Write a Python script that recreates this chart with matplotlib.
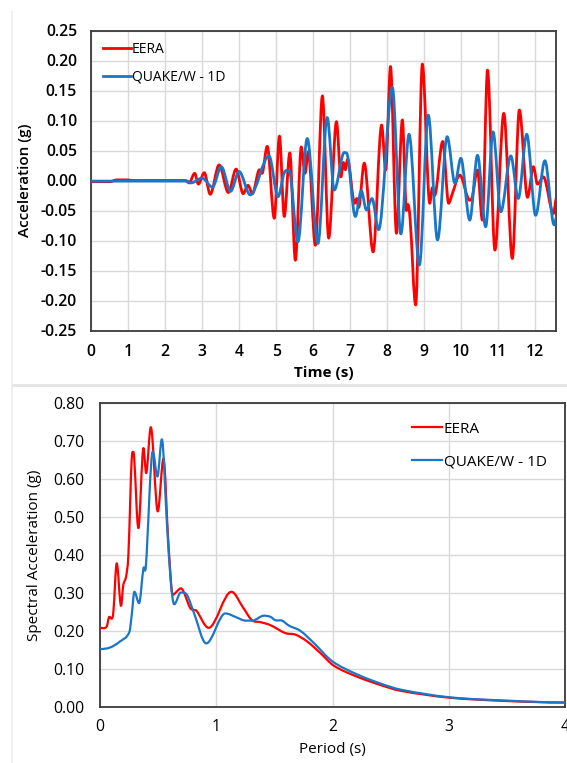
import numpy as np
import matplotlib
matplotlib.use('Agg')
import matplotlib.pyplot as plt
from matplotlib.path import Path
from matplotlib.patches import PathPatch
from matplotlib.lines import Line2D

plt.rcParams['font.family'] = ['Open Sans', 'DejaVu Sans']

RED = '#ff0000'
BLUE = '#1a76c6'
GRID = '#d9d9d9'
SPINE = '#3a3a3a'

# time history, peaks/troughs (t in s, acc in g)
eera_t = [0, 0.5, 0.7, 1.0, 1.1, 2.55, 2.65, 2.80, 2.90, 3.06, 3.22, 3.46, 3.71, 3.92,
          4.11, 4.24, 4.36, 4.55, 4.62, 4.76, 4.95, 5.09, 5.22, 5.37, 5.52, 5.68, 5.78,
          5.87, 6.06, 6.25, 6.42, 6.63, 6.75, 6.82, 6.87, 6.93, 7.12, 7.18, 7.23, 7.38,
          7.62, 7.85, 7.96, 8.09, 8.25, 8.41, 8.52, 8.56, 8.62, 8.77, 8.95, 9.15, 9.22,
          9.28, 9.50, 9.66, 9.76, 9.96, 10.23, 10.30, 10.44, 10.57, 10.71, 10.91, 11.15,
          11.38, 11.57, 11.79, 11.95, 12.06, 12.22, 12.49, 12.58]
eera_acc = [-0.002, -0.002, 0.001, 0.001, 0.0, 0.0, -0.004, 0.012, -0.006, 0.013, -0.023,
            0.026, -0.020, 0.019, -0.022, -0.008, -0.022, 0.018, 0.012, 0.057, -0.063,
            0.074, -0.060, 0.046, -0.133, 0.056, 0.012, 0.048, -0.108, 0.141, -0.096,
            0.098, 0.006, 0.030, 0.018, 0.035, -0.038, -0.030, -0.045, 0.029, -0.119,
            0.0925, 0.0175, 0.190, -0.088, 0.101, -0.050, -0.040, -0.065, -0.2075, 0.194,
            -0.038, -0.012, -0.025, 0.065, -0.038, -0.022, 0.009, -0.033, -0.027, 0.0175,
            -0.066, 0.184, -0.116, 0.112, -0.130, 0.1175, -0.028, 0.023, -0.006, 0.006,
            -0.055, -0.027]

quake_t = [0, 2.6, 2.7, 3.0, 3.28, 3.52, 3.77, 4.0, 4.30, 4.81, 5.05, 5.22, 5.35, 5.59,
           5.84, 6.13, 6.38, 6.57, 6.80, 6.90, 7.14, 7.30, 7.44, 7.59, 7.77, 8.14, 8.37,
           8.59, 8.87, 9.11, 9.36, 9.62, 9.83, 9.99, 10.23, 10.44, 10.66, 10.86, 11.07,
           11.34, 11.54, 11.77, 12.01, 12.26, 12.51, 12.58]
quake_acc = [-0.001, -0.001, -0.004, 0.004, -0.011, 0.023, -0.018, 0.015, -0.024, 0.041,
             -0.027, 0.013, 0.016, -0.102, 0.070, -0.105, 0.105, -0.016, 0.043, 0.046,
             -0.060, -0.017, -0.049, -0.030, -0.082, 0.155, -0.089, 0.077, -0.141, 0.109,
             -0.099, 0.073, -0.0045, 0.037, -0.066, 0.042, -0.077, 0.081, -0.052, 0.041,
             -0.030, 0.077, -0.058, 0.033, -0.074, -0.060]

# response spectra (period in s, Sa in g)
eera_T = [0, 0.057, 0.08, 0.10, 0.115, 0.144, 0.181, 0.20, 0.224, 0.244, 0.279, 0.293,
          0.33, 0.374, 0.397, 0.437, 0.497, 0.546, 0.589, 0.626, 0.655, 0.695, 0.776,
          0.81, 0.83, 0.934, 1.13, 1.236, 1.307, 1.38, 1.466, 1.595, 1.681, 1.782, 1.897,
          2.012, 2.213, 2.414, 2.586, 3.0, 3.5, 4.0]
eera_sa = [0.208, 0.211, 0.237, 0.232, 0.25, 0.378, 0.266, 0.32, 0.343, 0.40, 0.671,
           0.66, 0.471, 0.682, 0.616, 0.737, 0.515, 0.654, 0.427, 0.295, 0.302, 0.312,
           0.26, 0.255, 0.253, 0.208, 0.303, 0.259, 0.228, 0.223, 0.215, 0.194, 0.19,
           0.172, 0.141, 0.108, 0.079, 0.057, 0.042, 0.024, 0.015, 0.011]

quake_T = [0, 0.086, 0.172, 0.253, 0.273, 0.296, 0.336, 0.374, 0.394, 0.454, 0.494,
           0.532, 0.575, 0.609, 0.638, 0.695, 0.747, 0.805, 0.914, 1.078, 1.178, 1.25,
           1.31, 1.41, 1.466, 1.509, 1.566, 1.624, 1.724, 1.839, 1.997, 2.213, 2.414,
           2.586, 3.0, 3.5, 4.0]
quake_sa = [0.152, 0.156, 0.172, 0.197, 0.242, 0.303, 0.273, 0.365, 0.369, 0.673, 0.607,
            0.705, 0.488, 0.33, 0.270, 0.301, 0.295, 0.25, 0.167, 0.246, 0.235, 0.227,
            0.227, 0.24, 0.237, 0.228, 0.227, 0.214, 0.2, 0.168, 0.12, 0.085, 0.061,
            0.045, 0.025, 0.016, 0.011]


def smooth_path(x, y):
    # bezier path through the read points, flat tangent at peaks (like excel smoothed lines)
    x = np.asarray(x, float)
    y = np.asarray(y, float)
    n = len(x)
    m = np.zeros(n)
    for i in range(1, n - 1):
        if (y[i] - y[i-1]) * (y[i+1] - y[i]) > 0:
            m[i] = (y[i+1] - y[i-1]) / (x[i+1] - x[i-1])
    verts = [(x[0], y[0])]
    codes = [Path.MOVETO]
    for i in range(n - 1):
        h = x[i+1] - x[i]
        verts += [(x[i] + h/3, y[i] + m[i]*h/3), (x[i+1] - h/3, y[i+1] - m[i+1]*h/3), (x[i+1], y[i+1])]
        codes += [Path.CURVE4] * 3
    return Path(verts, codes)


def add_curve(ax, x, y, color, lw, label):
    ax.add_patch(PathPatch(smooth_path(x, y), fill=False, edgecolor=color, lw=lw,
                           capstyle='round', joinstyle='round', zorder=3))
    ax.plot([], [], color=color, lw=lw, label=label)


fig = plt.figure(figsize=(5.67, 7.63), dpi=100)

# ---- top: acceleration time history
ax1 = fig.add_axes([91/567, 1 - 330.5/763, 465/567, 300/763])
add_curve(ax1, eera_t, eera_acc, RED, 2.0, 'EERA')
add_curve(ax1, quake_t, quake_acc, BLUE, 2.0, 'QUAKE/W - 1D')
ax1.set_xlim(0, 12.56)
ax1.set_ylim(-0.25, 0.25)
ax1.set_xticks(range(0, 13))
yt = np.arange(-0.25, 0.26, 0.05)
ax1.set_yticks(yt)
ax1.set_yticklabels(['%.2f' % v if abs(v) > 1e-9 else '0.00' for v in yt])
ax1.grid(True, color=GRID, lw=1.0)
ax1.set_axisbelow(True)
ax1.tick_params(length=0, labelsize=11.3)
ax1.tick_params(axis='y', pad=10)
ax1.tick_params(axis='x', pad=10)
for lab in ax1.get_xticklabels() + ax1.get_yticklabels():
    lab.set_fontweight('semibold')
for s in ax1.spines.values():
    s.set_color(SPINE)
    s.set_linewidth(1.3)
ax1.set_xlabel('Time (s)', fontsize=11, fontweight='bold', labelpad=4)
ax1.set_ylabel('Acceleration (g)', fontsize=11, fontweight='semibold', labelpad=6)
ax1.legend(loc='upper left', frameon=False, fontsize=10, handlelength=2.0,
           handletextpad=0.1, borderaxespad=0.45, labelspacing=0.9)

# ---- bottom: response spectra
ax2 = fig.add_axes([100/567, 1 - 706.7/763, 465/567, 303.4/763])
add_curve(ax2, eera_T, eera_sa, RED, 1.6, 'EERA')
add_curve(ax2, quake_T, quake_sa, BLUE, 1.6, 'QUAKE/W - 1D')
ax2.set_xlim(0, 4)
ax2.set_ylim(0, 0.8)
ax2.set_xticks(range(0, 5))
yt2 = np.arange(0, 0.81, 0.1)
ax2.set_yticks(yt2)
ax2.set_yticklabels(['%.2f' % v for v in yt2])
ax2.grid(True, color=GRID, lw=1.0)
ax2.set_axisbelow(True)
ax2.tick_params(length=0, labelsize=11.3)
ax2.tick_params(axis='y', pad=11)
ax2.tick_params(axis='x', pad=9)
for s in ax2.spines.values():
    s.set_color(SPINE)
    s.set_linewidth(1.3)
ax2.set_xlabel('Period (s)', fontsize=11, labelpad=5)
ax2.set_ylabel('Spectral Acceleration (g)', fontsize=11, labelpad=8)
ax2.legend(loc='upper right', frameon=False, fontsize=11, handlelength=2.0,
           handletextpad=0.1, borderaxespad=0.8, labelspacing=1.15)

# light frame lines of the pasted panels
fig.add_artist(Line2D([12/567, 1], [1 - 385/763, 1 - 385/763], color='#e3e3e3', lw=2))
fig.add_artist(Line2D([12/567, 12/567], [0, 1 - 12/763], color='#ececec', lw=1.2))

fig.savefig('out.png', dpi=100)
